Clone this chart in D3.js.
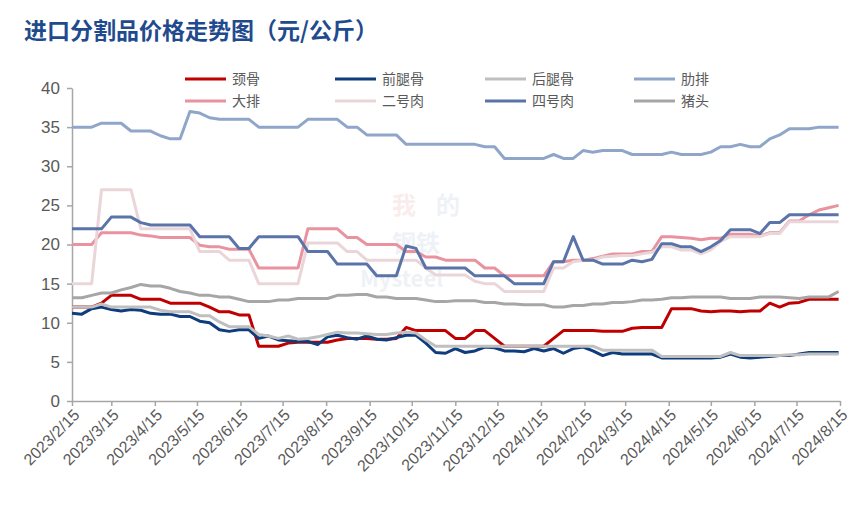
<!DOCTYPE html>
<html>
<head>
<meta charset="utf-8">
<script src="https://cdn.jsdelivr.net/npm/d3@7"></script>
<style>
  body { margin: 0; background: #fff; }
  svg { display: block; }
</style>
</head>
<body>
<svg width="867" height="527"></svg>
<script>
// weekly prices, 2023/2/15 .. 2024/8/15
var startDate = new Date(2023, 1, 15);
var weeks = 79;

var neck = [12,12,12,12.5,13.5,13.5,13.5,13,13,13,12.5,12.5,12.5,12.5,12,11.4,11.4,11,11,7,7,7,7.4,7.5,7.5,7.5,7.5,7.8,8,8,8,7.9,7.9,8,9.4,9,9,9,9,8,8,9,9,8,7,7,7,7,7,8,9,9,9,9,8.9,8.9,8.9,9.3,9.4,9.4,9.4,11.8,11.8,11.8,11.5,11.4,11.5,11.5,11.4,11.5,11.5,12.5,12,12.5,12.6,13,13,13,13];
var foreLeg = [11.2,11.1,11.8,12,11.7,11.5,11.7,11.6,11.2,11.1,11.1,10.8,10.8,10.2,10,9.1,8.9,9.1,9.1,8,8.3,7.8,7.7,7.6,7.6,7.2,8.2,8.4,8.1,7.9,8.3,7.9,7.8,8.1,8.4,8.4,7.4,6.2,6.1,6.7,6.2,6.4,6.9,6.8,6.4,6.4,6.3,6.7,6.4,6.7,6.1,6.7,6.9,6.4,5.8,6.2,6,6,6,6,5.5,5.5,5.5,5.5,5.5,5.5,5.6,6,5.6,5.5,5.6,5.7,5.8,5.8,6,6.2,6.2,6.2,6.2];
var hindLeg = [12,12,12,12.4,12,12,12,12,12,11.6,11.4,11.4,11.4,10.9,10.9,10.1,9.5,9.5,9.5,8.5,8.3,8,8.3,7.9,8,8.2,8.5,8.8,8.7,8.7,8.6,8.5,8.5,8.7,8.8,8.7,7.8,7,7,7,7,7,7,7,7,7,7,7,7,7,7,7,7,7,6.5,6.5,6.5,6.5,6.5,6.5,5.7,5.7,5.7,5.7,5.7,5.7,5.7,6.2,5.8,5.8,5.8,5.8,5.8,5.9,5.9,6,6,6,6];
var ribs = [35,35,35,35.5,35.5,35.5,34.5,34.5,34.5,33.9,33.5,33.5,37,36.8,36.2,36,36,36,36,35,35,35,35,35,36,36,36,36,35,35,34,34,34,34,32.8,32.8,32.8,32.8,32.8,32.8,32.8,32.8,32.5,32.5,31,31,31,31,31,31.5,31,31,32,31.8,32,32,32,31.5,31.5,31.5,31.5,31.8,31.5,31.5,31.5,31.8,32.5,32.5,32.8,32.5,32.5,33.5,34,34.8,34.8,34.8,35,35,35];
var loin = [20,20,20,21.5,21.5,21.5,21.5,21.2,21.1,20.9,20.9,20.9,20.9,19.9,19.7,19.7,19.4,19.4,19.4,17,17,17,17,17,22,22,22,22,20.9,20.9,20,20,20,20,19.1,19.1,18.4,18.4,18,18,18,18,17,17,16,16,16,16,16,17.8,17.8,18,18,18.2,18.5,18.8,18.8,18.8,19.1,19.1,21,21,20.9,20.8,20.6,20.8,20.8,21.3,21.3,21.3,21.1,21.5,21.5,23,23,23.8,24.4,24.7,25];
var meat2 = [15,15,15,27,27,27,27,22,22,22,22,22,22,19.1,19.1,19.1,18,18,18,15,15,15,15,15,20.2,20.2,20.2,20.2,19.1,19.1,18,18,18,18,18,18,17,16.1,16.1,16.1,16.1,15.3,15,15,14,14,14,14,14,17,17,17.8,18,18,18.4,18.5,18.6,18.6,18.8,19,19.7,19.7,19.3,19.3,18.8,19.3,20.4,21,21,21,21,21.4,21.4,22.9,22.9,22.9,22.9,22.9,22.9];
var meat4 = [22,22,22,22,23.5,23.5,23.5,22.8,22.5,22.5,22.5,22.5,22.5,21,21,21,21,19.5,19.5,21,21,21,21,21,19.1,19.1,19.1,17.5,17.5,17.5,17.5,16,16,16,19.8,19.5,17,17,17,17,17,16,16,16,16,15,15,15,15,17.8,17.8,21,18,18,17.5,17.5,17.5,18,17.8,18.1,20.1,20.1,19.7,19.7,19.1,19.7,20.5,21.9,21.9,21.9,21.4,22.8,22.8,23.8,23.8,23.8,23.8,23.8,23.8];
var head = [13.2,13.2,13.5,13.8,13.8,14.2,14.5,14.9,14.7,14.7,14.4,14,13.8,13.5,13.5,13.3,13.3,13,12.7,12.7,12.7,12.9,12.9,13.1,13.1,13.1,13.1,13.5,13.5,13.6,13.6,13.3,13.3,13.1,13.1,13.1,12.9,12.7,12.7,12.8,12.8,12.8,12.6,12.6,12.4,12.4,12.3,12.3,12.3,12,12,12.2,12.2,12.4,12.4,12.6,12.6,12.7,12.9,12.9,13,13.2,13.2,13.3,13.3,13.3,13.3,13.1,13.1,13.1,13.3,13.3,13.3,13.2,13.1,13.3,13.3,13.3,14];

var names = ['颈骨', '前腿骨', '后腿骨', '肋排', '大排', '二号肉', '四号肉', '猪头'];
var colors = ['#c00000', '#0e3c7c', '#bfbfbf', '#8fa6c9', '#e8939f', '#ead6d9', '#5a74a9', '#a6a6a6'];
var values = [neck, foreLeg, hindLeg, ribs, loin, meat2, meat4, head];

var dates = d3.range(weeks).map(function (i) { return d3.timeDay.offset(startDate, i * 7); });
var tickDates = d3.range(19).map(function (k) { return new Date(2023, 1 + k, 15); });

var margin = {left: 72, right: 27, top: 88, bottom: 126};
var width = 867, height = 527;

var x = d3.scaleTime().domain([startDate, new Date(2024, 7, 15)]).range([margin.left, width - margin.right]);
var y = d3.scaleLinear().domain([0, 40]).range([height - margin.bottom, margin.top]);

var svg = d3.select('svg');

// title
svg.append('text')
  .attr('x', 24).attr('y', 39)
  .attr('fill', '#1f4b8e')
  .style('font-family', '"Noto Sans CJK SC", sans-serif')
  .style('font-weight', 'bold')
  .style('font-size', '23px')
  .text('进口分割品价格走势图（元/公斤）');

// faint watermark
var wm = svg.append('g').attr('opacity', 0.07).style('font-family', '"Noto Sans CJK SC", sans-serif').style('font-weight', 'bold');
wm.append('text').attr('x', 392).attr('y', 214).attr('fill', '#c00000').style('font-size', '24px').text('我');
wm.append('text').attr('x', 436).attr('y', 214).attr('fill', '#1f4b8e').style('font-size', '24px').text('的');
wm.append('text').attr('x', 392).attr('y', 252).attr('fill', '#1f4b8e').style('font-size', '24px').text('钢铁');
wm.append('text').attr('x', 360).attr('y', 287).attr('fill', '#1f4b8e').style('font-size', '22px').text('Mysteel');

// axes
var axisLeft = d3.axisLeft(y).tickValues(d3.range(0, 41, 5)).tickSize(5).tickSizeOuter(0);
var axisBottom = d3.axisBottom(x).tickValues(tickDates).tickSize(5).tickSizeOuter(0)
  .tickFormat(function (d) { return d.getFullYear() + '/' + (d.getMonth() + 1) + '/' + d.getDate(); });

var gy = svg.append('g')
  .attr('transform', 'translate(' + margin.left + ',0)')
  .call(axisLeft);
gy.select('.domain').attr('stroke', '#a6a6a6').attr('stroke-width', 1.5);
gy.selectAll('.tick line').attr('stroke', '#a6a6a6').attr('stroke-width', 1.5);
gy.selectAll('.tick text')
  .attr('x', -12)
  .attr('fill', '#595959')
  .style('font-family', '"Liberation Sans", Arial, sans-serif')
  .style('font-size', '17px');

var gx = svg.append('g')
  .attr('transform', 'translate(0,' + (height - margin.bottom) + ')')
  .call(axisBottom);
gx.select('.domain').attr('stroke', '#a6a6a6').attr('stroke-width', 1.5);
gx.selectAll('.tick line').attr('stroke', '#a6a6a6').attr('stroke-width', 1.5);
gx.selectAll('.tick text')
  .attr('fill', '#595959')
  .style('font-family', '"Liberation Sans", Arial, sans-serif')
  .style('font-size', '16px')
  .style('text-anchor', 'end')
  .attr('dy', null)
  .attr('y', 0)
  .attr('transform', 'translate(8,15) rotate(-45)');

// lines
var line = d3.line()
  .x(function (d, i) { return x(dates[i]); })
  .y(function (d) { return y(d); });

values.forEach(function (vals, k) {
  svg.append('path')
    .datum(vals)
    .attr('fill', 'none')
    .attr('stroke', colors[k])
    .attr('stroke-width', 3)
    .attr('stroke-linejoin', 'round')
    .attr('d', line);
});

// legend
var legendX = [185, 335, 485, 634];
var legendY = [79, 101];
var legend = svg.append('g');
names.forEach(function (name, k) {
  var lx = legendX[k % 4], ly = legendY[Math.floor(k / 4)];
  legend.append('line')
    .attr('x1', lx).attr('x2', lx + 41)
    .attr('y1', ly).attr('y2', ly)
    .attr('stroke', colors[k])
    .attr('stroke-width', 3);
  legend.append('text')
    .attr('x', lx + 47).attr('y', ly + 5)
    .attr('fill', '#595959')
    .style('font-family', '"Noto Sans CJK SC", sans-serif')
    .style('font-size', '14px')
    .text(name);
});
</script>
</body>
</html>
